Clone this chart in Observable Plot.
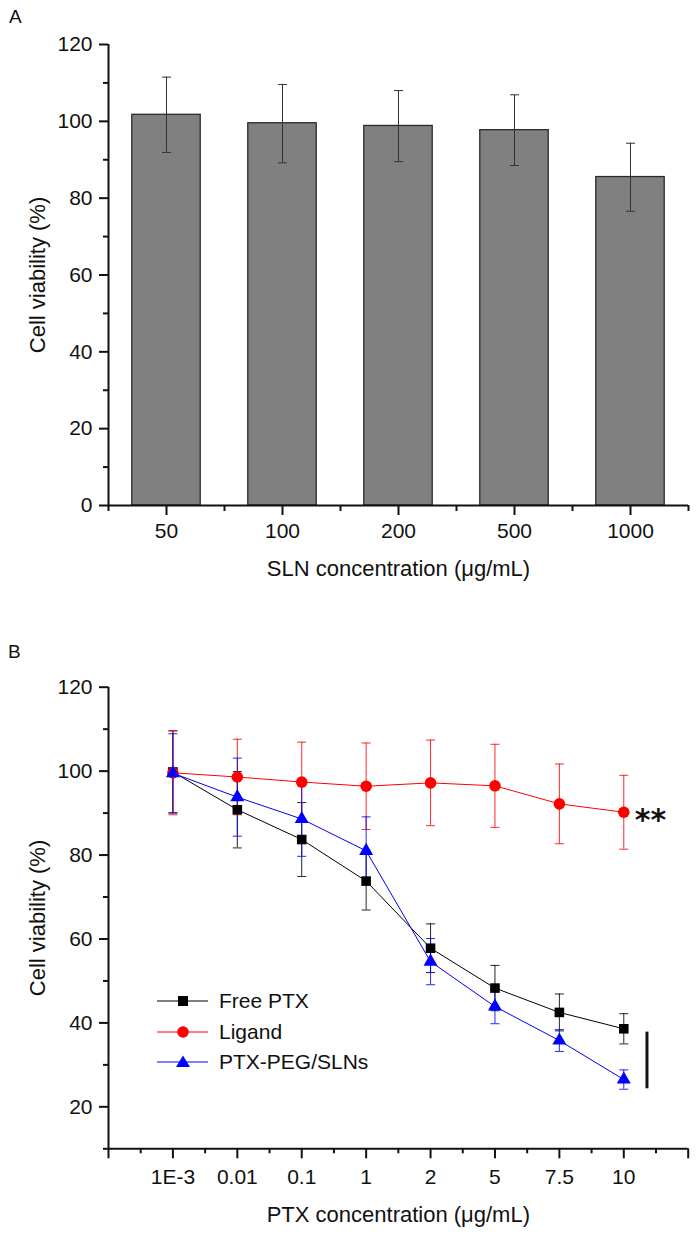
<!DOCTYPE html>
<html>
<head>
<meta charset="utf-8">
<script src="https://cdn.jsdelivr.net/npm/d3@7"></script>
<script src="https://cdn.jsdelivr.net/npm/@observablehq/plot@0.6"></script>
<style>
  html, body { margin: 0; padding: 0; background: #fff; }
  #root { position: relative; width: 697px; height: 1234px; overflow: hidden; font-family: "Liberation Sans", Arial, sans-serif; color: #111; }
  .panel { position: absolute; left: 0; }
  .tag { position: absolute; font-size: 19px; line-height: 19px; color: #111; }
  #legend { position: absolute; left: 157px; top: 986px; }
  .lrow { display: flex; align-items: center; height: 30.5px; font-size: 21px; }
  .lrow svg { margin-right: 10px; }
</style>
</head>
<body>
<div id="root">
  <div class="tag" style="left:9px;top:7px">A</div>
  <div class="tag" style="left:8px;top:642px">B</div>
  <div id="panelA" class="panel" style="top:0px"></div>
  <div id="panelB" class="panel" style="top:620px"></div>
  <div id="legend"></div>
</div>
<script>
// ---------- Panel A data ----------
const slnConc = ["50", "100", "200", "500", "1000"];
const slnMean = [101.7, 99.5, 98.8, 97.7, 85.5];
const slnLow  = [91.9, 89.2, 89.5, 88.5, 76.6];
const slnHigh = [111.5, 109.6, 108.0, 106.9, 94.3];

// ---------- Panel B data ----------
const ptxConc = ["1E-3", "0.01", "0.1", "1", "2", "5", "7.5", "10"];
const seriesNames = ["Free PTX", "Ligand", "PTX-PEG/SLNs"];
const freeMean   = [99.8, 90.8, 83.7, 73.8, 57.8, 48.3, 42.5, 38.6];
const freeSD     = [9.8, 9.1, 8.8, 6.9, 5.8, 5.4, 4.4, 3.6];
const ligandMean = [99.6, 98.6, 97.4, 96.4, 97.2, 96.5, 92.2, 90.2];
const ligandSD   = [10.0, 9.0, 9.5, 10.3, 10.2, 9.9, 9.5, 8.8];
const pegMean    = [99.5, 93.8, 88.6, 81.0, 54.6, 43.9, 35.8, 26.5];
const pegSD      = [9.4, 9.3, 8.9, 8.1, 5.5, 4.1, 2.6, 2.3];
const seriesColors = ["#000000", "#ff0000", "#0000ff"];
const seriesSymbols = ["square", "circle", "triangle"];

// significance annotation
const sigStars = [{x: 8, y: 90.2, label: "**"}];
const sigBar = [{x: 8.36, y1: 24.3, y2: 37.8}];

const FONT = '"Liberation Sans", Arial, sans-serif';

// horizontal cap symbol for error bars
const capSymbol = {
  draw(ctx, size) {
    const r = Math.sqrt(size / Math.PI);
    ctx.moveTo(-r, 0);
    ctx.lineTo(r, 0);
  }
};

// ---------- Panel A ----------
const dataA = slnConc.map((c, i) => ({i, c, v: slnMean[i], lo: slnLow[i], hi: slnHigh[i]}));

const plotA = Plot.plot({
  width: 697,
  height: 600,
  marginTop: 44,
  marginBottom: 95,
  marginLeft: 108,
  marginRight: 9,
  style: {fontFamily: FONT, fontSize: "21px", color: "#111", background: "transparent"},
  x: {type: "linear", domain: [0, slnConc.length], axis: null},
  y: {domain: [0, 120], axis: null},
  marks: [
    Plot.rectY(dataA, {x1: d => d.i + 0.205, x2: d => d.i + 0.795, y1: 0, y2: "v", fill: "#808080", stroke: "#2a2a2a", strokeWidth: 1.3}),
    Plot.ruleX(dataA, {x: d => d.i + 0.5, y1: "lo", y2: "hi", stroke: "#333", strokeWidth: 1}),
    Plot.dot(dataA, {x: d => d.i + 0.5, y: "lo", symbol: capSymbol, r: 4.5, stroke: "#333", strokeWidth: 1, fill: "none"}),
    Plot.dot(dataA, {x: d => d.i + 0.5, y: "hi", symbol: capSymbol, r: 4.5, stroke: "#333", strokeWidth: 1, fill: "none"}),
    // axes lines
    Plot.ruleY([0], {stroke: "#111", strokeWidth: 2}),
    Plot.ruleX([0], {stroke: "#111", strokeWidth: 2}),
    // y ticks
    Plot.axisY({ticks: d3.range(0, 121, 20), tickSize: 9, tickPadding: 7, strokeWidth: 2, stroke: "#111", label: null, fontSize: 21}),
    Plot.axisY({ticks: d3.range(10, 120, 20), tickSize: 5, tickFormat: () => "", strokeWidth: 2, stroke: "#111", label: null}),
    // x ticks
    Plot.axisX({ticks: slnConc.map((c, i) => i + 0.5), tickFormat: d => slnConc[Math.floor(d)], tickSize: 10, tickPadding: 8, strokeWidth: 2, stroke: "#111", label: null, fontSize: 21}),
    Plot.axisX({ticks: d3.range(0, slnConc.length + 1), tickSize: 6, tickFormat: () => "", strokeWidth: 2, stroke: "#111", label: null}),
    // axis titles
    Plot.text(["SLN concentration (\u03bcg/mL)"], {frameAnchor: "bottom", textAnchor: "middle", lineAnchor: "middle", dy: 63, fontSize: 22, fill: "#111"}),
    Plot.text(["Cell viability (%)"], {frameAnchor: "left", textAnchor: "middle", lineAnchor: "middle", dx: -71, rotate: -90, fontSize: 22, fill: "#111"})
  ]
});
document.getElementById("panelA").appendChild(plotA);

// ---------- Panel B ----------
const means = [freeMean, ligandMean, pegMean];
const sds = [freeSD, ligandSD, pegSD];
const dataB = [];
seriesNames.forEach((s, k) => {
  ptxConc.forEach((c, i) => {
    dataB.push({series: s, k, x: i + 1, c, v: means[k][i], lo: means[k][i] - sds[k][i], hi: means[k][i] + sds[k][i]});
  });
});
const byK = k => dataB.filter(d => d.k === k);
const drawOrder = [0, 1, 2];

const marksB = [];
for (const k of drawOrder) {
  const d = byK(k);
  const col = seriesColors[k];
  marksB.push(
    Plot.ruleX(d, {x: "x", y1: "lo", y2: "hi", stroke: col, strokeWidth: 1, strokeOpacity: 0.85}),
    Plot.dot(d, {x: "x", y: "lo", symbol: capSymbol, r: 4.5, stroke: col, strokeWidth: 1, fill: "none", strokeOpacity: 0.85}),
    Plot.dot(d, {x: "x", y: "hi", symbol: capSymbol, r: 4.5, stroke: col, strokeWidth: 1, fill: "none", strokeOpacity: 0.85})
  );
}
for (const k of drawOrder) {
  marksB.push(Plot.line(byK(k), {x: "x", y: "v", stroke: seriesColors[k], strokeWidth: 1}));
}
const symR = {square: 5.4, circle: 5.8, triangle: 5.2};
for (const k of drawOrder) {
  marksB.push(Plot.dot(byK(k), {x: "x", y: "v", symbol: seriesSymbols[k], r: symR[seriesSymbols[k]], fill: seriesColors[k], stroke: "none"}));
}

const plotB = Plot.plot({
  width: 697,
  height: 614,
  marginTop: 66.7,
  marginBottom: 85.7,
  marginLeft: 108,
  marginRight: 9.3,
  style: {fontFamily: FONT, fontSize: "21px", color: "#111", background: "transparent"},
  x: {type: "linear", domain: [0, ptxConc.length + 1], axis: null},
  y: {domain: [10, 120], axis: null},
  marks: [
    ...marksB,
    Plot.ruleX(sigBar, {x: "x", y1: "y1", y2: "y2", stroke: "#111", strokeWidth: 3}),
    Plot.text(sigStars, {x: "x", y: "y", text: "label", textAnchor: "start", dx: 11, dy: 8, fontSize: 30, fontWeight: "bold", fontFamily: "DejaVu Sans", fill: "#111"}),
    Plot.ruleY([10], {stroke: "#111", strokeWidth: 2}),
    Plot.ruleX([0], {stroke: "#111", strokeWidth: 2}),
    Plot.axisY({ticks: d3.range(20, 121, 20), tickSize: 9, tickPadding: 7, strokeWidth: 2, stroke: "#111", label: null, fontSize: 21}),
    Plot.axisY({ticks: d3.range(10, 120, 20), tickSize: 5, tickFormat: () => "", strokeWidth: 2, stroke: "#111", label: null}),
    Plot.axisX({ticks: d3.range(0, ptxConc.length + 2), tickFormat: d => ptxConc[d - 1] ?? "", tickSize: 10, tickPadding: 10, strokeWidth: 2, stroke: "#111", label: null, fontSize: 21}),
    Plot.axisX({ticks: d3.range(0, ptxConc.length + 1).map(d => d + 0.5), tickSize: 5, tickFormat: () => "", strokeWidth: 2, stroke: "#111", label: null}),
    Plot.text(["PTX concentration (\u03bcg/mL)"], {frameAnchor: "bottom", textAnchor: "middle", lineAnchor: "middle", dy: 66, fontSize: 22, fill: "#111"}),
    Plot.text(["Cell viability (%)"], {frameAnchor: "left", textAnchor: "middle", lineAnchor: "middle", dx: -71, rotate: -90, fontSize: 22, fill: "#111"})
  ]
});
document.getElementById("panelB").appendChild(plotB);

// ---------- Legend ----------
const legend = document.getElementById("legend");
seriesNames.forEach((name, k) => {
  const row = document.createElement("div");
  row.className = "lrow";
  const col = seriesColors[k];
  let marker;
  if (seriesSymbols[k] === "square") marker = `<rect x="21" y="5" width="10" height="10" fill="${col}"/>`;
  else if (seriesSymbols[k] === "circle") marker = `<circle cx="26" cy="10" r="5.8" fill="${col}"/>`;
  else marker = `<path d="M26,3.5 L33,15 L19,15 Z" fill="${col}"/>`;
  row.innerHTML = `<svg width="52" height="20"><line x1="0" y1="10" x2="51" y2="10" stroke="${col}" stroke-width="1"/>${marker}</svg><span>${name}</span>`;
  legend.appendChild(row);
});
</script>
</body>
</html>
